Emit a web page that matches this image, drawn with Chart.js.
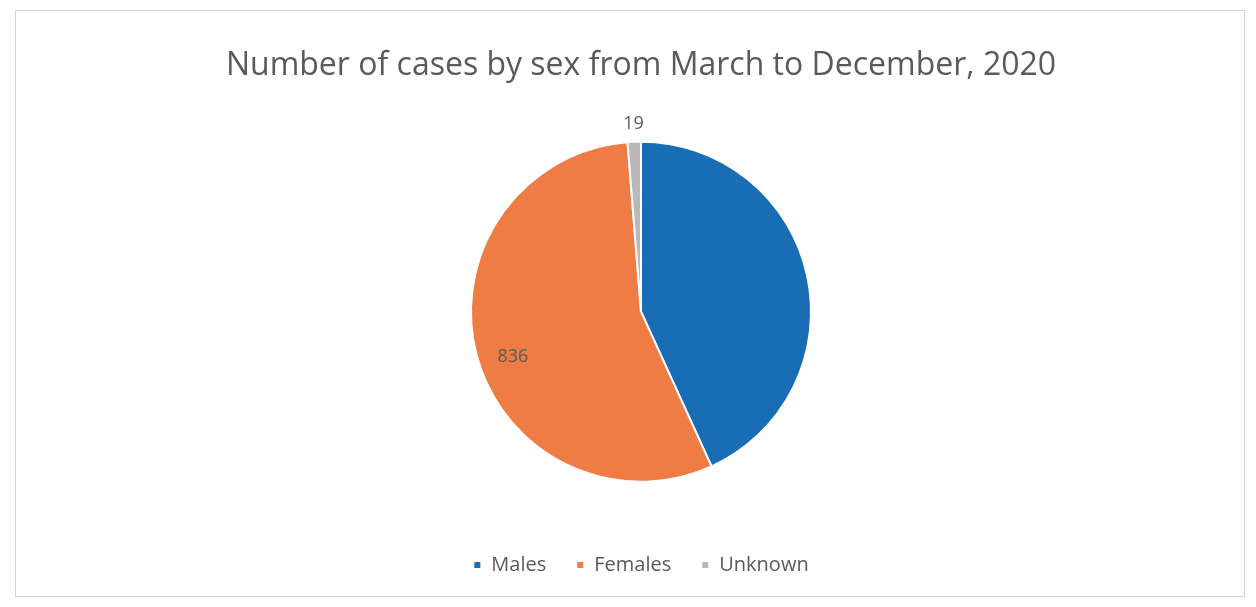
<!DOCTYPE html>
<html>
<head>
<meta charset="utf-8">
<script src="https://cdn.jsdelivr.net/npm/chart.js@4.4.0/dist/chart.umd.min.js"></script>
<style>
    html, body { margin: 0; padding: 0; background: #ffffff; }
    #wrap { position: relative; width: 1256px; height: 607px; }
    #frame { position: absolute; left: 15px; top: 10px; width: 1230px; height: 587px; border: 1px solid #d4d4d4; box-sizing: border-box; }
    canvas { position: absolute; left: 0; top: 0; }
</style>
</head>
<body>
<div id="wrap">
    <div id="frame"></div>
    <canvas id="pieChart" width="1256" height="607"></canvas>
</div>
<script>
// Chart data
const chartTitle = 'Number of cases by sex from March to December, 2020';
const categories = ['Males', 'Females', 'Unknown'];
const caseCounts = [650, 836, 19];
const sliceColors = ['#196db4', '#ef7b45', '#b9b9b9'];

// draws the value labels like excel does (inside end / outside)
const valueLabels = {
    id: 'valueLabels',
    afterDatasetsDraw(chart, args, opts) {
        const ctx = chart.ctx;
        const meta = chart.getDatasetMeta(0);
        meta.data.forEach((arc, i) => {
            const place = opts.placement[i];
            if (!place) return;  // no visible label for this slice
            // excel's best fit puts the inside label a bit off the middle of the slice
            const mid = place === 'outside'
                ? (arc.startAngle + arc.endAngle) / 2
                : arc.startAngle + (arc.endAngle - arc.startAngle) * 0.475;
            const r = place === 'outside' ? arc.outerRadius + 18 : arc.outerRadius * 0.8;
            const x = arc.x + Math.cos(mid) * r;
            const y = arc.y + Math.sin(mid) * r;
            ctx.save();
            ctx.font = opts.font;
            ctx.fillStyle = opts.color;
            ctx.textAlign = 'center';
            ctx.textBaseline = 'middle';
            ctx.fillText(String(chart.data.datasets[0].data[i]), x, y);
            ctx.restore();
        });
    }
};

const ctx = document.getElementById('pieChart').getContext('2d');
new Chart(ctx, {
    type: 'pie',
    data: {
        labels: categories,
        datasets: [{
            data: caseCounts,
            backgroundColor: sliceColors,
            borderColor: '#ffffff',
            borderWidth: 2,
            radius: 170
        }]
    },
    options: {
        responsive: false,
        animation: false,
        layout: { padding: { top: 47, bottom: 22, left: 26 } },
        plugins: {
            title: {
                display: true,
                text: chartTitle,
                color: '#5a5a5a',
                font: { family: 'Open Sans', size: 32, weight: 'normal' },
                padding: { top: 0, bottom: 13 }
            },
            legend: {
                position: 'bottom',
                labels: {
                    color: '#5a5a5a',
                    font: { family: 'Open Sans', size: 20 },
                    boxWidth: 8,
                    boxHeight: 8,
                    padding: 30
                }
            },
            tooltip: { enabled: false },
            valueLabels: {
                placement: [null, 'inside', 'outside'],
                font: '18px "Open Sans"',
                color: '#5a5a5a'
            }
        }
    },
    plugins: [valueLabels]
});
</script>
</body>
</html>
